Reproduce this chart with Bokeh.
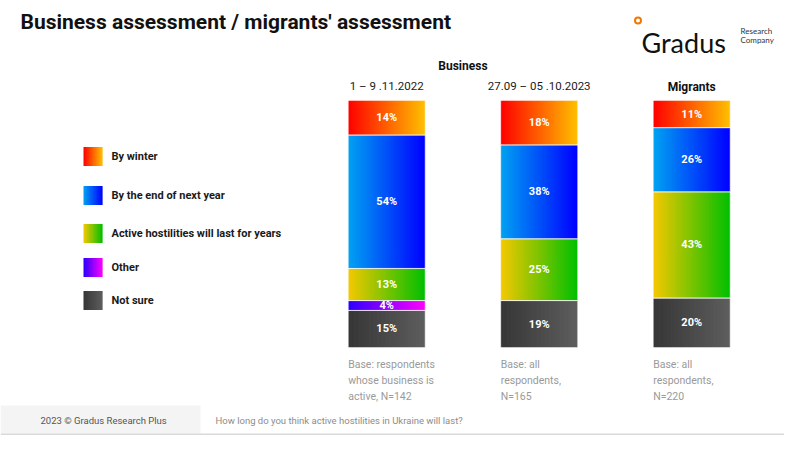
import numpy as np
from bokeh.plotting import figure
from bokeh.models import Range1d, ColumnDataSource
from bokeh.core.properties import value
from bokeh.embed import file_html
from bokeh.resources import INLINE

# ---- data ----
columns = ["1 – 9 .11.2022", "27.09 – 05 .10.2023", "Migrants"]
answers = ["By winter", "By the end of next year",
           "Active hostilities will last for years", "Other", "Not sure"]
by_winter = [14, 18, 11]
end_next_year = [54, 38, 26]
for_years = [13, 25, 43]
other = [4, 0, 0]
not_sure = [15, 19, 20]
base_notes = [["Base: respondents", "whose business is", "active, N=142"],
              ["Base: all", "respondents,", "N=165"],
              ["Base: all", "respondents,", "N=220"]]

# gradient per answer (left colour, right colour)
grad = {
    "By winter": ("#ff0000", "#ffc000"),
    "By the end of next year": ("#00a2f2", "#0000ff"),
    "Active hostilities will last for years": ("#f5c800", "#00bf00"),
    "Other": ("#2a00ff", "#ff00ff"),
    "Not sure": ("#363636", "#5e5e5e"),
}

FONT = value("Roboto")


def hex2rgb(h):
    return np.array([int(h[i:i + 2], 16) for i in (1, 3, 5)], dtype=float)


def strips(left, right, bottom, top, c0, c1, n=40):
    # horizontal gradient faked with thin, slightly overlapping quads
    a, b = hex2rgb(c0), hex2rgb(c1)
    edges = np.linspace(left, right, n + 1)
    step = edges[1] - edges[0]
    out = dict(left=[], right=[], bottom=[], top=[], color=[])
    for j in range(n):
        t = (j + 0.5) / n
        r, g, bl = (a + (b - a) * t).round().astype(int)
        out["left"].append(edges[j])
        out["right"].append(min(edges[j + 1] + step * 0.8, right))
        out["bottom"].append(bottom)
        out["top"].append(top)
        out["color"].append("#%02x%02x%02x" % (r, g, bl))
    return out


def merge(parts):
    res = dict(left=[], right=[], bottom=[], top=[], color=[])
    for d in parts:
        for k in res:
            res[k] += d[k]
    return res


# pixel coordinates for the decorations (origin at top-left)
p = figure(width=784, height=435, x_range=Range1d(0, 784), y_range=Range1d(435, 0),
           output_backend="svg", toolbar_location=None, min_border=0,
           x_axis_location=None, y_axis_location=None, outline_line_color=None)
p.grid.visible = False
p.background_fill_color = "white"

# scales for the bars: column index and percent
px_per_col, col0 = 152.5, 386.2
bar_bottom, px_per_pct = 347, 2.47
p.extra_x_ranges = {"col": Range1d((0 - col0) / px_per_col, (784 - col0) / px_per_col)}
p.extra_y_ranges = {"pct": Range1d(-(435 - bar_bottom) / px_per_pct, bar_bottom / px_per_pct)}

# ---- stacked bars ----
stack_order = [("Not sure", not_sure), ("Other", other),
               ("Active hostilities will last for years", for_years),
               ("By the end of next year", end_next_year), ("By winter", by_winter)]
bw = 0.505
parts, seg, lab = [], dict(left=[], right=[], bottom=[], top=[]), dict(x=[], y=[], t=[])
for i in range(len(columns)):
    base = 0
    for name, vals in stack_order:
        v = vals[i]
        if v <= 0:
            continue
        parts.append(strips(i - bw / 2, i + bw / 2, base, base + v, *grad[name]))
        seg["left"].append(i - bw / 2)
        seg["right"].append(i + bw / 2)
        seg["bottom"].append(base)
        seg["top"].append(base + v)
        lab["x"].append(i)
        lab["y"].append(base + v / 2)
        lab["t"].append("%d%%" % v)
        base += v

p.quad(left="left", right="right", bottom="bottom", top="top", source=ColumnDataSource(merge(parts)),
       fill_color="color", line_color=None,
       x_range_name="col", y_range_name="pct")
p.quad(left="left", right="right", bottom="bottom", top="top", source=ColumnDataSource(seg),
       fill_color=None, line_color="white", line_alpha=0.6, line_width=1,
       x_range_name="col", y_range_name="pct")
p.text(x="x", y="y", text="t", source=ColumnDataSource(lab), text_color="white",
       text_font=FONT, text_font_size="11px", text_font_style="bold",
       text_align="center", text_baseline="middle", x_range_name="col", y_range_name="pct")

# column headers
p.text(x=[0.5], y=[65], text=["Business"], text_font=FONT, text_font_size="12px",
       text_font_style="bold", text_color="#111111", text_align="center",
       text_baseline="middle", x_range_name="col")
p.text(x=[0, 1], y=[85, 85], text=columns[:2], text_font=FONT, text_font_size="11.5px",
       text_color="#1a1a1a", text_align="center", text_baseline="middle", x_range_name="col")
p.text(x=[2], y=[86], text=columns[2:], text_font=FONT, text_font_size="12px",
       text_font_style="bold", text_color="#111111", text_align="center",
       text_baseline="middle", x_range_name="col")

# base notes under bars
bx, by, bt = [], [], []
for i, lines in enumerate(base_notes):
    for k, line in enumerate(lines):
        bx.append(i - bw / 2)
        by.append(364 + 16 * k)
        bt.append(line)
p.text(x=bx, y=by, text=bt, text_font=FONT, text_font_size="10.5px", text_color="#9a9a9a",
       text_align="left", text_baseline="middle", x_range_name="col")

# ---- legend ----
rows_y = [156, 195, 233, 267, 300]
lparts = [strips(83, 102, y - 9.5, y + 9.5, *grad[a], n=14) for a, y in zip(answers, rows_y)]
p.quad(left="left", right="right", bottom="bottom", top="top", source=ColumnDataSource(merge(lparts)),
       fill_color="color", line_color=None)
p.text(x=[111] * len(answers), y=rows_y, text=answers, text_font=FONT, text_font_size="11px",
       text_font_style="bold", text_color="#1a1a1a", text_baseline="middle")

# ---- title, logo, footer ----
p.text(x=[20], y=[21], text=["Business assessment / migrants' assessment"], text_font=FONT,
       text_font_size="21px", text_font_style="bold", text_color="#111111", text_baseline="middle")

p.scatter(x=[637.5], y=[20], size=6, fill_color="white", line_color="#f07800", line_width=2)
p.text(x=[641], y=[42], text=["Gradus"], text_font=value("Lato"), text_font_size="27px",
       text_color="#111111", text_baseline="alphabetic")
p.text(x=[740, 740], y=[30, 39], text=["Research", "Company"], text_font=value("Lato"),
       text_font_size="8px", text_color="#333333", text_baseline="middle")

p.quad(left=[0], right=[200], bottom=[433], top=[405], fill_color="#f4f4f4", line_color=None)
p.quad(left=[0], right=[784], bottom=[435], top=[433], fill_color="#d9d9d9", line_color=None)
p.text(x=[40], y=[420], text=["2023 © Gradus Research Plus"], text_font=FONT,
       text_font_size="9.5px", text_color="#555555", text_baseline="middle")
p.text(x=[215], y=[420], text=["How long do you think active hostilities in Ukraine will last?"],
       text_font=FONT, text_font_size="9.5px", text_color="#8c8c8c", text_baseline="middle")

open("out.html", "w").write(file_html(p, INLINE))
